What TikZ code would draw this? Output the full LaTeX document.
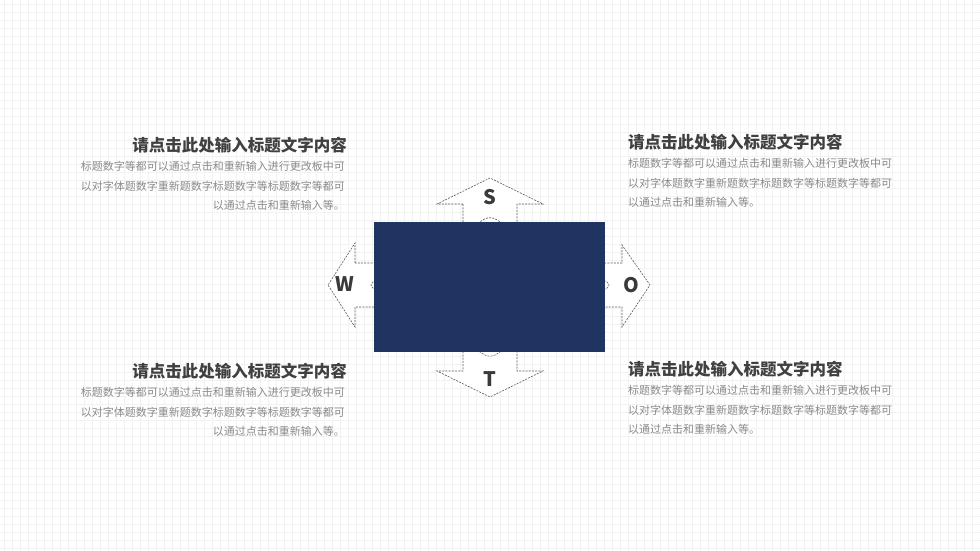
\documentclass[tikz,border=0pt]{standalone}
\usepackage{fontspec}
\setmainfont{Noto Sans CJK SC}
\usepackage{tikz}
\usetikzlibrary{positioning}
\definecolor{navy}{HTML}{1F3461}
\definecolor{titlegray}{HTML}{404040}
\definecolor{bodygray}{HTML}{8A8A8A}
\definecolor{letgray}{HTML}{3A3A3A}

\begin{document}
\begin{tikzpicture}[x=1pt,y=-1pt
	,inner sep=0pt
	,line join=miter]
  \tikzstyle{arrowshape}=[draw=black!65,dash pattern=on 2pt off 1.2pt,line width=0.6pt,fill=white]
  \tikzstyle{letter}=[font=\fontsize{20}{20}\selectfont\bfseries,text=letgray]
  \tikzstyle{heading}=[font=\fontsize{16.5}{16.5}\selectfont\bfseries,text=titlegray]
  \tikzstyle{body}=[font=\fontsize{11}{19.5}\selectfont,text=bodygray]

  \useasboundingbox (0,0) rectangle (980,551);
  % faint background grid
  \foreach \gx in {4,12,...,980} \draw[black!5] (\gx,0) -- (\gx,551);
  \foreach \gy in {4,12,...,551} \draw[black!5] (0,\gy) -- (980,\gy);

  % vertical arrow S/T
  \path[arrowshape] (463,204) -- (437,204) -- (490,178) -- (543,204) -- (517,204)
  	-- (517,371) -- (543,371) -- (490,397) -- (437,371) -- (463,371) -- cycle;
  % horizontal arrow W/O
  \path[arrowshape] (355,263) -- (355,243) -- (328,285) -- (355,327) -- (355,307)
  	-- (622,307) -- (622,327) -- (650,285) -- (622,245) -- (622,263) -- cycle;
  % inner diamond
  \path[arrowshape,rounded corners=6pt] (490,216) -- (612,285) -- (490,358) -- (368,285) -- cycle;

  % centre block
  \node[fill=navy,minimum width=231pt,minimum height=130pt] (core) at (489.5,287) {};

  \node[letter] (s) at (490,197) {S};
  \node[letter] (t) at (490,379) {T};
  \node[letter] (w) at (345,284) {W};
  \node[letter] (o) at (631,285) {O};

  % top left
  \node[heading,anchor=east] (tlh) at (347,145) {请点击此处输入标题文字内容};
  \node[body,anchor=north east,align=right] (tlb) at (345,161)
  	{标题数字等都可以通过点击和重新输入进行更改板中可\\以对字体题数字重新题数字标题数字等标题数字等都可\\以通过点击和重新输入等。};
  % top right
  \node[heading,anchor=west] (trh) at (628,142) {请点击此处输入标题文字内容};
  \node[body,anchor=north west,align=left] (trb) at (628,158)
  	{标题数字等都可以通过点击和重新输入进行更改板中可\\以对字体题数字重新题数字标题数字等标题数字等都可\\以通过点击和重新输入等。};
  % bottom left
  \node[heading,anchor=east] (blh) at (347,371) {请点击此处输入标题文字内容};
  \node[body,anchor=north east,align=right] (blb) at (345,387)
  	{标题数字等都可以通过点击和重新输入进行更改板中可\\以对字体题数字重新题数字标题数字等标题数字等都可\\以通过点击和重新输入等。};
  % bottom right
  \node[heading,anchor=west] (brh) at (628,369) {请点击此处输入标题文字内容};
  \node[body,anchor=north west,align=left] (brb) at (628,385)
  	{标题数字等都可以通过点击和重新输入进行更改板中可\\以对字体题数字重新题数字标题数字等标题数字等都可\\以通过点击和重新输入等。};
\end{tikzpicture}
\end{document}
